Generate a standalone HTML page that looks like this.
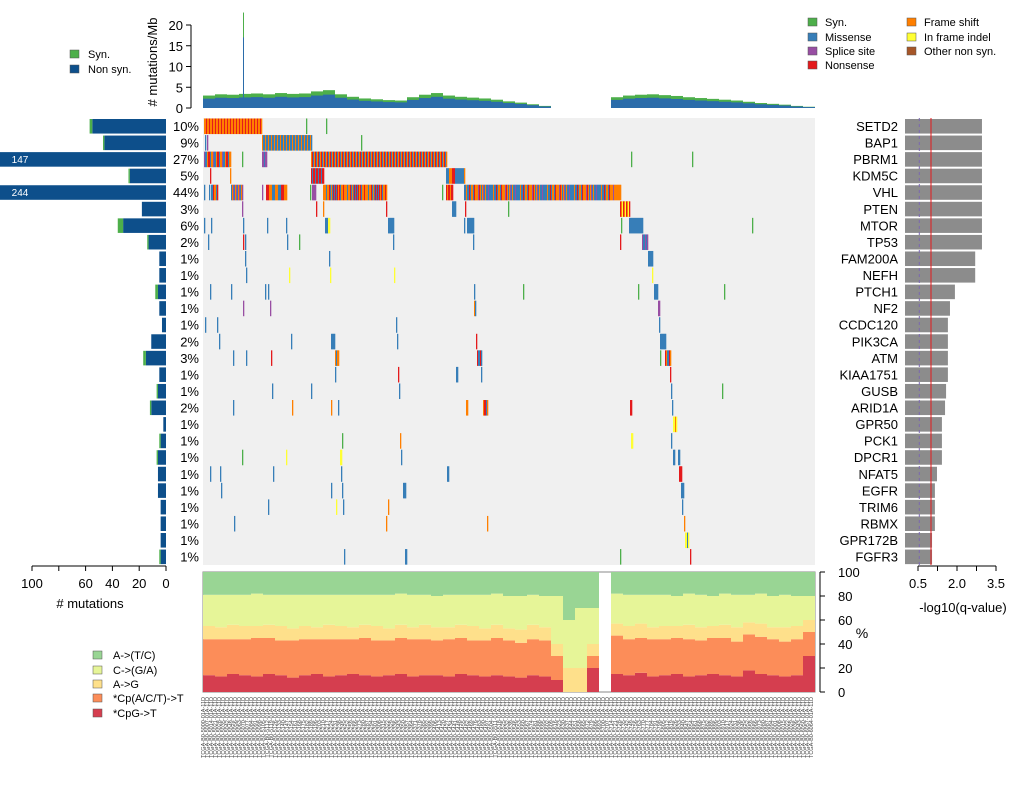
<!DOCTYPE html>
<html><head><meta charset="utf-8"><style>
body{margin:0;background:#fff;font-family:"Liberation Sans",sans-serif}
svg{display:block}
</style></head><body>
<svg id="c" width="1020" height="804" xmlns="http://www.w3.org/2000/svg" font-family="Liberation Sans, sans-serif"></svg>
<script>
const genes=["SETD2","BAP1","PBRM1","KDM5C","VHL","PTEN","MTOR","TP53","FAM200A","NEFH","PTCH1","NF2","CCDC120","PIK3CA","ATM","KIAA1751","GUSB","ARID1A","GPR50","PCK1","DPCR1","NFAT5","EGFR","TRIM6","RBMX","GPR172B","FGFR3"];
const pct=["10%","9%","27%","5%","44%","3%","6%","2%","1%","1%","1%","1%","1%","2%","3%","1%","1%","2%","1%","1%","1%","1%","1%","1%","1%","1%","1%"];
const nonSyn=[55,46,147,27,244,18,32,13,5,5,6,5,3,11,15,5,6,11,2,4,6,6,6,4,4,4,4];
const synCnt=[2,1,3,1,2,0,4,1,0,0,2,0,0,0,2,0,1,1,0,1,1,0,0,0,0,0,1];
const qval=[2.96,2.96,2.96,2.96,2.96,2.96,2.96,2.96,2.7,2.7,1.92,1.73,1.65,1.65,1.65,1.65,1.58,1.54,1.42,1.42,1.42,1.23,1.15,1.15,1.15,1.04,1.04];
const muts=[
[[1,58,"NMFMNFPM"],[103,103,"S"],[123,123,"S"]],
[[2,2,"M"],[4,4,"P"],[59,108,"MNFMPMFM"],[158,158,"S"]],
[[1,27,"FMNFMP"],[39,39,"S"],[59,63,"PM"],[108,243,"FNMFONFM"],[428,428,"S"],[489,489,"S"]],
[[7,7,"N"],[27,27,"F"],[108,120,"NMNF"],[243,261,"MMFNM"]],
[[1,1,"M"],[6,6,"M"],[8,14,"MFN"],[28,39,"PMFM"],[59,59,"P"],[63,83,"MNFMF"],[107,107,"S"],[109,112,"P"],[120,183,"NFMFNMF"],[239,239,"S"],[243,249,"NF"],[261,410,"MFMFMNMFP"],[411,417,"F"]],
[[39,39,"P"],[113,113,"N"],[120,120,"F"],[183,183,"N"],[249,252,"M"],[262,262,"N"],[305,305,"S"],[417,426,"NFIN"]],
[[1,1,"M"],[8,8,"M"],[40,40,"M"],[64,64,"M"],[83,83,"M"],[122,126,"IMM"],[185,190,"M"],[261,261,"M"],[264,270,"M"],[418,418,"S"],[426,439,"M"],[549,549,"S"]],
[[5,5,"M"],[40,40,"N"],[42,42,"M"],[84,84,"M"],[96,96,"S"],[190,190,"M"],[270,270,"M"],[417,417,"N"],[439,443,"MP"],[444,444,"P"]],
[[42,42,"M"],[126,126,"M"],[445,449,"M"]],
[[43,43,"M"],[86,86,"I"],[127,127,"I"],[191,191,"I"],[449,449,"I"]],
[[7,7,"M"],[28,28,"M"],[62,62,"M"],[65,65,"M"],[271,271,"M"],[320,320,"S"],[435,435,"S"],[451,454,"M"],[521,521,"S"]],
[[40,40,"P"],[67,67,"P"],[271,272,"MF"],[455,456,"PN"]],
[[2,2,"M"],[14,14,"M"],[193,193,"M"],[456,456,"M"]],
[[16,16,"M"],[88,88,"M"],[128,131,"M"],[194,194,"M"],[273,273,"N"],[457,462,"M"]],
[[30,30,"M"],[43,43,"M"],[68,68,"N"],[132,135,"FM"],[274,278,"MN"],[457,457,"S"],[462,467,"FNM"]],
[[132,132,"M"],[195,195,"N"],[253,254,"M"],[278,278,"M"],[467,467,"N"]],
[[69,69,"M"],[108,108,"M"],[196,196,"M"],[468,468,"M"],[519,519,"S"]],
[[30,30,"M"],[89,89,"F"],[128,128,"F"],[135,135,"M"],[263,264,"F"],[280,284,"MNF"],[427,428,"N"],[469,469,"M"]],
[[470,473,"IF"]],
[[139,139,"S"],[197,197,"F"],[428,429,"I"],[468,468,"M"]],
[[39,39,"S"],[83,83,"I"],[137,138,"I"],[198,198,"M"],[470,471,"M"],[475,476,"M"]],
[[7,7,"M"],[17,17,"M"],[70,70,"M"],[138,138,"M"],[244,245,"M"],[476,478,"N"]],
[[18,18,"M"],[128,128,"M"],[139,139,"M"],[200,202,"M"],[478,480,"M"]],
[[65,65,"M"],[133,133,"I"],[140,140,"M"],[185,185,"F"],[479,479,"M"]],
[[31,31,"M"],[183,183,"F"],[284,284,"F"],[481,481,"F"]],
[[482,485,"IM"]],
[[141,141,"M"],[202,203,"M"],[417,417,"S"],[487,487,"N"]]];
const tmbBins=[3.0,3.3,3.2,3.4,3.5,3.3,3.6,3.4,3.5,4.0,4.3,3.3,2.7,2.3,2.1,1.9,1.8,2.6,3.2,3.6,3.0,2.7,2.5,2.3,2.0,1.6,1.3,0.9,0.5,0,0,0,0,0,2.6,3.0,3.2,3.3,3.1,2.9,2.6,2.4,2.2,2.0,1.8,1.5,1.2,1.0,0.8,0.5,0.3];
const tmbSynFrac=[0.25,0.25,0.25,0.25,0.25,0.25,0.25,0.25,0.25,0.25,0.25,0.25,0.25,0.25,0.25,0.25,0.25,0.25,0.25,0.25,0.25,0.25,0.25,0.25,0.25,0.25,0.25,0.25,0.25,0,0,0,0,0,0.25,0.25,0.25,0.25,0.25,0.25,0.25,0.25,0.25,0.25,0.25,0.25,0.25,0.25,0.25,0.25,0.25];
const spikeSample=[40], spikeTotal=[23], spikeNonSyn=[17];
const cpgT=[14,13,15,14,13,15,14,12,14,15,13,14,15,14,13,14,15,13,14,14,13,15,14,13,14,13,12,14,13,10,0,0,20,0,15,14,16,13,14,15,13,14,15,14,13,18,15,14,13,14,30];
const cpT=[30,31,29,30,32,30,29,31,30,29,31,30,29,31,30,29,30,31,30,29,31,30,29,30,31,30,29,30,30,20,0,0,10,0,32,30,29,31,30,30,31,29,30,31,29,30,31,30,29,30,20];
const aG=[11,10,12,11,10,11,12,10,11,10,12,11,10,11,12,10,11,10,12,11,10,11,12,10,11,10,11,12,11,10,20,20,10,0,10,11,12,10,11,10,12,11,10,11,12,10,11,10,12,11,10];
const cGA=[26,27,25,26,27,25,26,28,26,27,25,26,27,25,26,28,26,27,25,26,27,25,26,28,26,27,28,25,26,40,40,50,30,0,25,26,24,27,26,25,26,27,25,26,27,23,25,26,27,25,20];
const specColors=["#D53E4F","#FC8D59","#FEE08B","#E6F598","#99D594"];
const mutColors={M:"#377EB8",S:"#4DAF4A",N:"#E41A1C",F:"#FF7F00",P:"#984EA3",I:"#FFFF33",O:"#A65628"};
const svg=document.getElementById('c');const NS="http://www.w3.org/2000/svg";
function mk(tag,attrs,parent,name,inter){const e=document.createElementNS(NS,tag);for(const k in attrs)e.setAttribute(k,attrs[k]);


(parent||svg).appendChild(e);return e;}
function txt(x,y,s,size,anchor,name,extra){const t=mk('text',Object.assign({x:x,y:y,'font-size':size,'text-anchor':anchor||'start',fill:'#000'},extra||{}),null,name);t.textContent=s;return t;}
const X0=203,BW=1; const sx=i=>X0+i*BW;
const R0=118,RH=16.56; const ry=r=>R0+r*RH;
const tY=v=>108-v*4.15;
const lX=v=>166-v*1.34;
const qX=v=>905+v*26;
const pY=v=>692-v*1.2;
mk('rect',{x:203,y:118,width:612,height:447,fill:'#F0F0F0'},null,'oncoprint-background');
genes.forEach((g,r)=>{
 muts[r].forEach(seg=>{const ty=seg[2];for(let i=seg[0];i<=seg[1];i++){const c=ty[(i*5+Math.floor(i/3))%ty.length];
  mk('rect',{x:sx(i),y:ry(r)+0.5,width:BW+0.3,height:RH-1,fill:mutColors[c]},null,'mutation-'+g.toLowerCase());}});
 txt(898,ry(r)+13,g,13,'end','gene-label-'+g.toLowerCase());
 txt(199,ry(r)+13,pct[r],13,'end','percent-label-'+g.toLowerCase());
 const ns=nonSyn[r],sy=synCnt[r];const x1=Math.max(0,lX(ns));
 mk('rect',{x:x1,y:ry(r)+1,width:166-x1,height:RH-2,fill:'#0D4F8B'},null,'count-bar-'+g.toLowerCase());
 if(lX(ns)>0&&sy>0)mk('rect',{x:lX(ns+sy),y:ry(r)+1,width:sy*1.34,height:RH-2,fill:'#4DAF4A'},null,'syn-bar-'+g.toLowerCase());
 if(lX(ns)<0)txt(20,ry(r)+12,String(ns),10,'middle','count-label-'+g.toLowerCase(),{fill:'#fff'});
 mk('rect',{x:905,y:ry(r)+1,width:qX(qval[r])-905,height:RH-2,fill:'#8C8C8C'},null,'qvalue-bar-'+g.toLowerCase());
});
mk('line',{x1:qX(1),y1:118,x2:qX(1),y2:565,stroke:'#E41A1C','stroke-width':1},null,'q-threshold-line');
mk('line',{x1:qX(0.55),y1:118,x2:qX(0.55),y2:565,stroke:'#7B68B0','stroke-width':1,'stroke-dasharray':'3,3'},null,'q-dashed-line');
mk('line',{x1:lX(100),y1:566,x2:166,y2:566,stroke:'#000'},null,'count-axis');
[100,80,60,40,20,0].forEach(v=>{mk('line',{x1:lX(v),y1:566,x2:lX(v),y2:571,stroke:'#000'},null,'count-tick');if(v!==80)txt(lX(v),588,String(v),13,'middle','count-tick-label');});
txt(90,608,'# mutations',13,'middle','count-axis-title');
mk('line',{x1:qX(0.5),y1:566,x2:qX(3.5),y2:566,stroke:'#000'},null,'q-axis');
[0.5,2.0,3.5].forEach(v=>{mk('line',{x1:qX(v),y1:566,x2:qX(v),y2:571,stroke:'#000'},null,'q-tick');txt(qX(v),588,v.toFixed(1),13,'middle','q-tick-label');});
[1.25,2.75].forEach(v=>mk('line',{x1:qX(v),y1:566,x2:qX(v),y2:571,stroke:'#000'},null,'q-tick'));
txt(963,612,'-log10(q-value)',13,'middle','q-axis-title');
tmbBins.forEach((v,b)=>{if(v<=0)return;const x=sx(b*12),ns=v*(1-tmbSynFrac[b]);
 mk('rect',{x:x,y:tY(v),width:12,height:108-tY(v),fill:'#4DAF4A'},null,'tmb-syn-bar');
 mk('rect',{x:x,y:tY(ns),width:12,height:108-tY(ns),fill:'#2B6CAA'},null,'tmb-nonsyn-bar');});
spikeSample.forEach((s,k)=>{mk('rect',{x:sx(s),y:tY(spikeTotal[k]),width:1,height:108-tY(spikeTotal[k]),fill:'#4DAF4A'},null,'tmb-spike-syn');
 mk('rect',{x:sx(s),y:tY(spikeNonSyn[k]),width:1,height:108-tY(spikeNonSyn[k]),fill:'#2B6CAA'},null,'tmb-spike-nonsyn');});
mk('line',{x1:191,y1:tY(0),x2:191,y2:tY(20),stroke:'#000'},null,'tmb-axis');
[0,5,10,15,20].forEach(v=>{mk('line',{x1:186,y1:tY(v),x2:191,y2:tY(v),stroke:'#000'},null,'tmb-tick');txt(183,tY(v)+5,String(v),13,'end','tmb-tick-label');});
txt(157,62,'# mutations/Mb',13,'middle','tmb-axis-title',{transform:'rotate(-90 157 62)'});
mk('rect',{x:203,y:572,width:612,height:120,fill:'#fff',stroke:'#888'},null,'spectrum-frame');
const cats=[cpgT,cpT,aG,cGA];
tmbBins.forEach((_,b)=>{let acc=0;const vals=cats.map(a=>a[b]);const tot=vals.reduce((p,q)=>p+q,0);
 if(tot===0)return;
 const full=vals.concat([100-tot]);
 full.forEach((v,k)=>{if(v<=0)return;mk('rect',{x:sx(b*12),y:pY(acc+v),width:12,height:v*1.2,fill:specColors[k]},null,'spectrum-segment');acc+=v;});});
mk('line',{x1:820,y1:572,x2:820,y2:692,stroke:'#000'},null,'spectrum-axis');
[0,20,40,60,80,100].forEach(v=>{mk('line',{x1:820,y1:pY(v),x2:825,y2:pY(v),stroke:'#000'},null,'spectrum-tick');txt(838,pY(v)+5,String(v),13,'start','spectrum-tick-label');});
txt(862,638,'%',14,'middle','spectrum-axis-title');
for(let i=0;i<153;i++){const x=205+i*4;txt(x,697,'TCGA-B0-'+(5000+i*7)+'-01A-11D',5.5,'end','sample-label',{fill:'#444',transform:'rotate(-90 '+x+' 697)'});}
const legL=[["#4DAF4A","Syn.",54],["#0D4F8B","Non syn.",69]];
legL.forEach(l=>{mk('rect',{x:70,y:l[2]-4,width:9,height:8,fill:l[0],stroke:'#555','stroke-width':0.5},null,'legend-swatch');txt(88,l[2]+4,l[1],11,'start','legend-label');});
const legR=[["#4DAF4A","Syn.",808,22],["#377EB8","Missense",808,37],["#984EA3","Splice site",808,51],["#E41A1C","Nonsense",808,65],["#FF7F00","Frame shift",907,22],["#FFFF33","In frame indel",907,37],["#A65628","Other non syn.",907,51]];
legR.forEach(l=>{mk('rect',{x:l[2],y:l[3]-4,width:9,height:8,fill:l[0],stroke:'#555','stroke-width':0.5},null,'legend-swatch');txt(l[2]+17,l[3]+4,l[1],11,'start','legend-label');});
const legS=[["#99D594","A->(T/C)",655],["#E6F598","C->(G/A)",670],["#FEE08B","A->G",684],["#FC8D59","*Cp(A/C/T)->T",698],["#D53E4F","*CpG->T",713]];
legS.forEach(l=>{mk('rect',{x:93,y:l[2]-4,width:9,height:8,fill:l[0],stroke:'#555','stroke-width':0.5},null,'legend-swatch');txt(113,l[2]+4,l[1],11,'start','legend-label');});
</script>
</body></html>
